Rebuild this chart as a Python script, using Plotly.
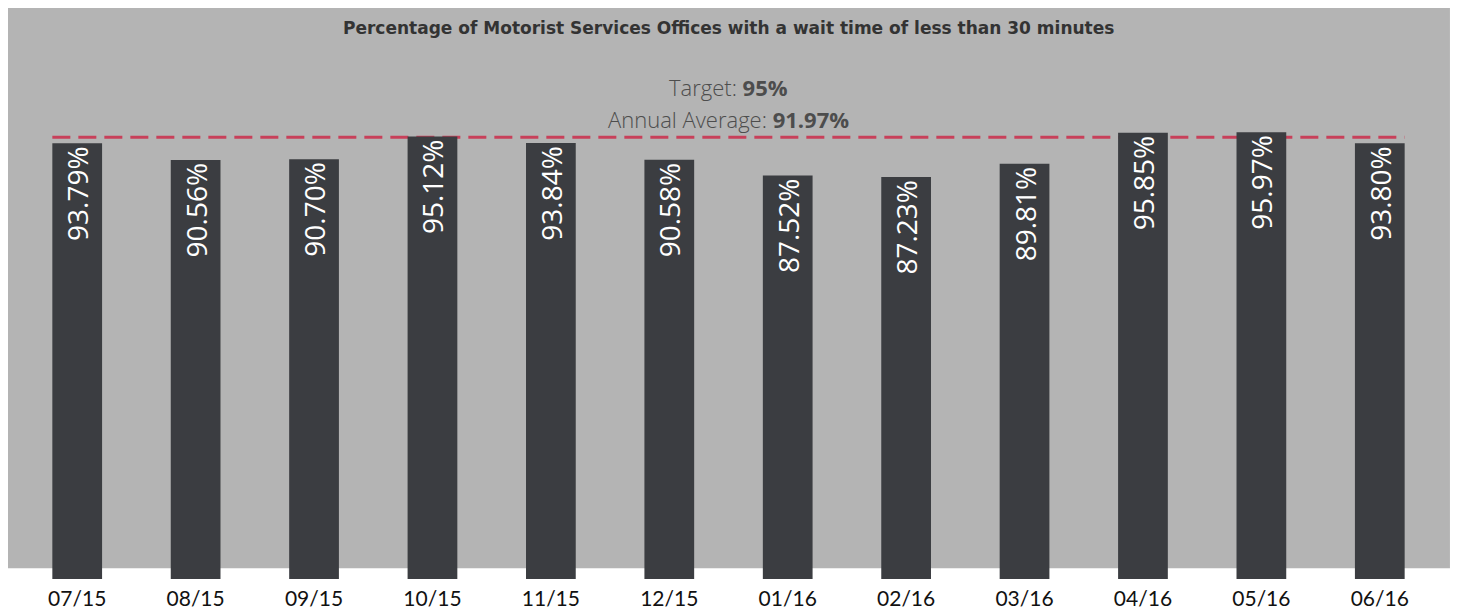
import plotly.graph_objects as go

months = ["07/15", "08/15", "09/15", "10/15", "11/15", "12/15",
          "01/16", "02/16", "03/16", "04/16", "05/16", "06/16"]
pct = [93.79, 90.56, 90.70, 95.12, 93.84, 90.58,
       87.52, 87.23, 89.81, 95.85, 95.97, 93.80]
labels = [f"{v:.2f}%" for v in pct]
target = 95
annual_avg = 91.97
title = "Percentage of Motorist Services Offices with a wait time of less than 30 minutes"

fig = go.Figure()
fig.add_trace(go.Bar(
    x=months, y=pct, text=labels,
    textposition="inside", insidetextanchor="end", textangle=-90,
    textfont=dict(family="Open Sans", size=28, color="white", weight=500),
    marker=dict(color="#3b3d41", line=dict(width=0)),
    cliponaxis=False, hoverinfo="x+y",
))

# grey background panel
fig.add_shape(type="rect", xref="paper", yref="paper",
              x0=-0.01, x1=1.0077, y0=0.019, y1=1.0,
              fillcolor="#b4b4b4", line=dict(width=0), layer="below")
# target line
fig.add_shape(type="line", xref="x", yref="y",
              x0=-0.21, x1=len(months) - 1 + 0.21, y0=target, y1=target,
              line=dict(color="#c8405a", width=3, dash="18px,8px"), layer="below")

fig.add_annotation(text=f"<b>{title}</b>", xref="paper", yref="paper",
                   x=0.5, y=0.965, yanchor="middle", showarrow=False,
                   font=dict(family="DejaVu Sans", size=17, color="#333333"))
fig.add_annotation(text=f"Target: <b>{target}%</b>", xref="paper", yref="paper",
                   x=0.5, y=0.862, yanchor="middle", showarrow=False,
                   font=dict(family="Open Sans", size=22, color="#4d4d4d", weight=300))
fig.add_annotation(text=f"Annual Average: <b>{annual_avg:.2f}%</b>", xref="paper", yref="paper",
                   x=0.5, y=0.806, yanchor="middle", showarrow=False,
                   font=dict(family="Open Sans", size=22, color="#4d4d4d", weight=300))

fig.update_layout(
    width=1460, height=606,
    margin=dict(l=10, r=29, t=0, b=35),
    paper_bgcolor="white", plot_bgcolor="rgba(0,0,0,0)",
    bargap=0.58, showlegend=False,
    xaxis=dict(showgrid=False, zeroline=False, showline=False, ticks="",
               ticklabelstandoff=5,
               tickfont=dict(family="Lato", size=21, color="#111111")),
    yaxis=dict(range=[8.8, 120.2], visible=False, showgrid=False, zeroline=False),
)

fig.write_html("out.html")
